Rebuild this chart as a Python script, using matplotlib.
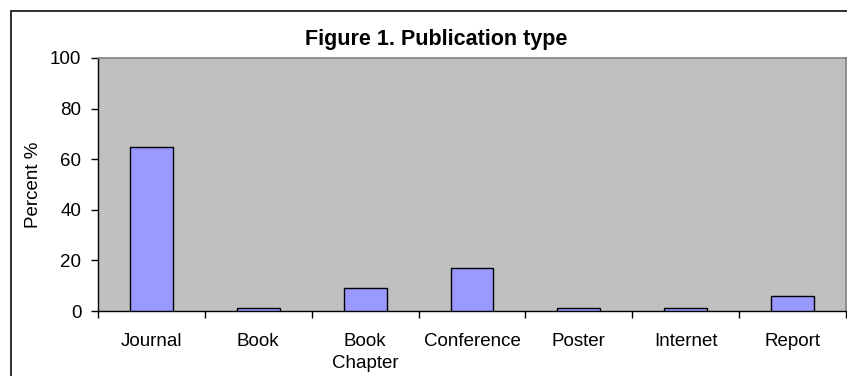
import matplotlib
matplotlib.use("Agg")
import matplotlib.pyplot as plt
from matplotlib.patches import Rectangle
import numpy as np

plt.rcParams['font.family'] = ['Liberation Sans', 'DejaVu Sans']

categories = ["Journal", "Book", "Book\nChapter", "Conference", "Poster", "Internet", "Report"]
percent = [65, 1, 9, 17, 1, 1, 6]
yticks = [0, 20, 40, 60, 80, 100]

W, H = 847, 376
fig = plt.figure(figsize=(W / 100, H / 100), dpi=100)
fig.patch.set_facecolor("white")

# outer chart frame (runs past the right and bottom edges)
fig.add_artist(Rectangle((11 / W, -0.1), 1.2, (H - 11) / H + 0.1,
                         transform=fig.transFigure, fill=False,
                         edgecolor="#202020", linewidth=1.3))

ax = fig.add_axes([98 / W, (H - 311) / H, (846 - 98) / W, (311 - 58) / H])
ax.set_facecolor("#c0c0c0")

x = np.arange(len(categories))
ax.bar(x, percent, width=0.4, color="#9999ff", edgecolor="black", linewidth=1.0, zorder=3)

ax.set_xlim(-0.5, len(categories) - 0.5)
ax.set_ylim(0, 100)
ax.set_yticks(yticks)
ax.tick_params(axis="y", labelsize=13.5, length=5, width=1, direction="out", pad=7)

# category labels centred, tick marks at category boundaries
ax.set_xticks(x)
ax.set_xticklabels(categories, fontsize=13.5, linespacing=1.4)
ax.tick_params(axis="x", which="major", length=0, pad=16)
ax.set_xticks(np.arange(-0.5, len(categories)), minor=True)
ax.tick_params(axis="x", which="minor", length=5, width=1, color="black")

for side in ["top", "right"]:
    ax.spines[side].set_color("#808080")
    ax.spines[side].set_linewidth(1.2)
for side in ["left", "bottom"]:
    ax.spines[side].set_color("black")
    ax.spines[side].set_linewidth(1.0)

ax.set_ylabel("Percent %", fontsize=13.5, labelpad=6)
fig.text(436 / W, 1 - 39 / H, "Figure 1. Publication type", ha="center", va="center",
         fontsize=15.5, fontweight="bold")

fig.savefig("out.png", dpi=100)
